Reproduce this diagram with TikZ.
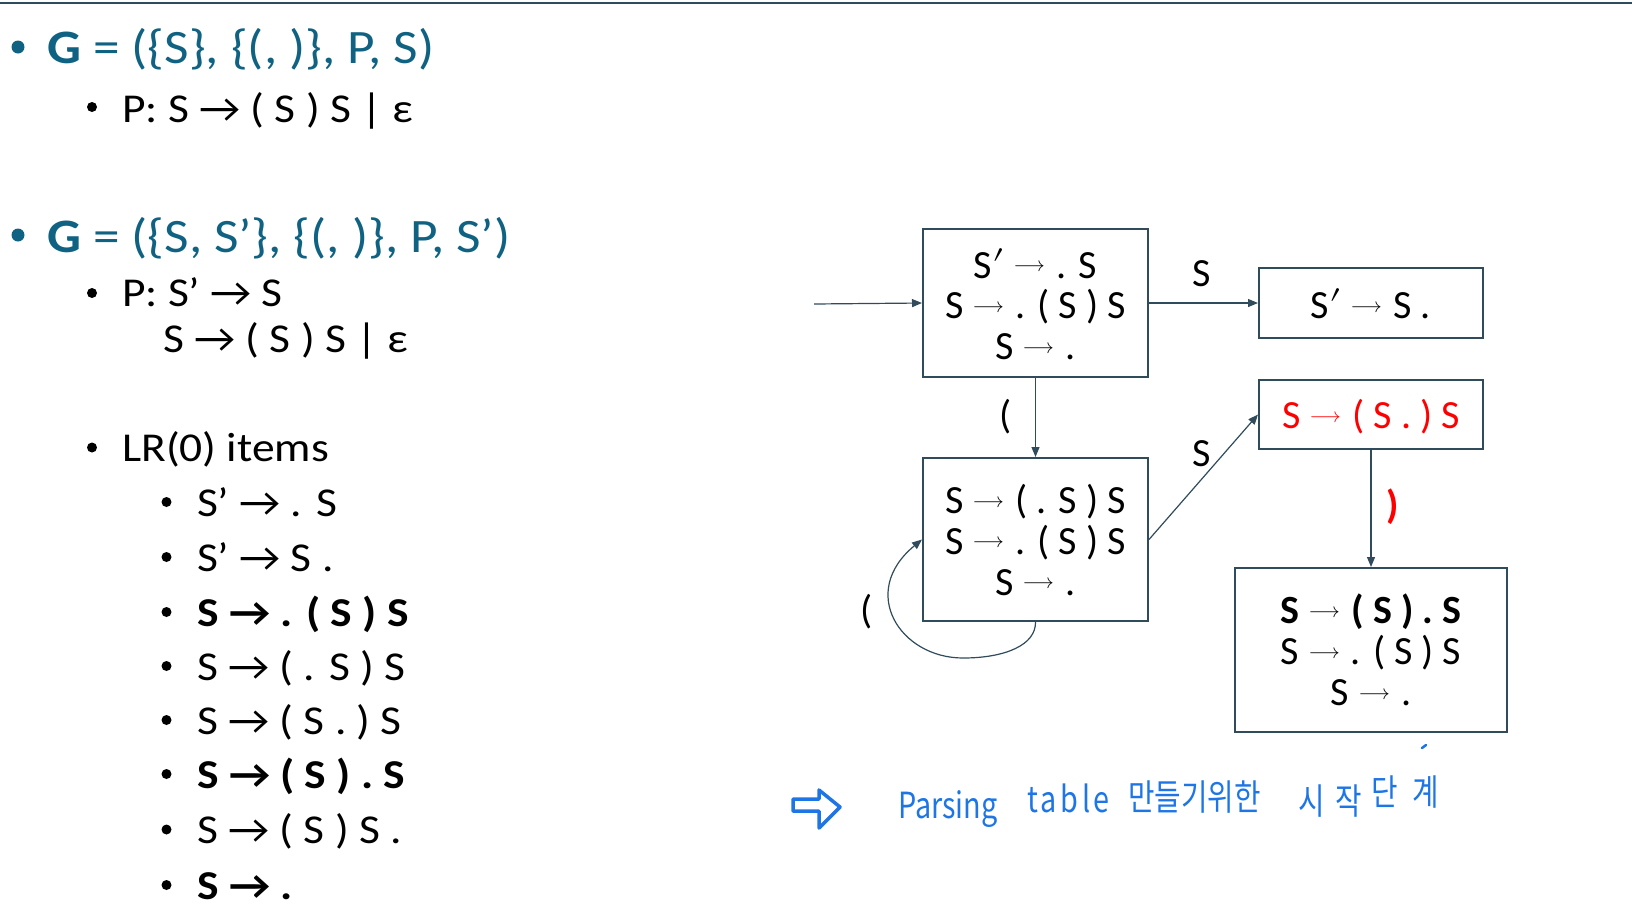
\documentclass[tikz,border=0pt]{standalone}
\usepackage{fontspec}
\setmainfont{Carlito}
\newfontfamily\listfont[FakeStretch=1.11]{Carlito}
\newfontfamily\symfont{Latin Modern Math}
\newfontfamily\handfont[FakeStretch=0.8]{Noto Sans CJK KR}
\usetikzlibrary{arrows.meta}
\definecolor{titleteal}{RGB}{16,98,130}
\definecolor{edgeslate}{RGB}{47,75,92}
\definecolor{inkblue}{RGB}{30,118,230}
% thin arrow and prime used inside the item boxes
\newcommand{\arw}{\hspace{1pt}\raisebox{6.5pt}{\symfont\fontsize{21}{21}\selectfont ⟶}\hspace{2pt}}
\newcommand{\prm}{{\symfont\fontsize{40}{40}\selectfont ′}}

\begin{document}
\begin{tikzpicture}[x=1pt,y=-1pt,
  lvlone/.style={anchor=base west, inner sep=0pt, text=titleteal, font=\listfont\fontsize{48}{56}\selectfont},
  lvltwo/.style={anchor=base west, inner sep=0pt, font=\listfont\fontsize{41}{48}\selectfont},
  dotone/.style={fill=titleteal, draw=none},
  dottwo/.style={fill=black, draw=none},
  state/.style={draw=edgeslate, line width=2pt, inner sep=0pt},
  boxtext/.style={align=center, inner sep=0pt, font=\fontsize{40}{40.8}\selectfont},
  trans/.style={draw=edgeslate, line width=1.2pt, -{Triangle[length=10pt,width=8pt]}},
  elabel/.style={inner sep=0pt, font=\fontsize{40}{44}\selectfont},
  hand/.style={anchor=base west, inner sep=0pt, text=inkblue, font=\handfont\fontsize{36}{40}\selectfont}
]
\useasboundingbox (0,0) rectangle (1632,919);

% rule across the top
\draw[edgeslate, line width=2.5pt] (0,3) -- (1632,3);

% ---- grammar definitions ----
\fill[dotone] (18,47) circle (6.5);
\node[lvlone] (g1) at (47,63) {\textbf{G} = (\{S\}, \{(, )\}, P, S)};
\fill[dottwo] (92,107) circle (5);
\node[lvltwo] (p1) at (122,122) {P: S → ( S ) S | ε};

\fill[dotone] (18,235) circle (6.5);
\node[lvlone] (g2) at (47,252) {\textbf{G} = (\{S, S’\}, \{(, )\}, P, S’)};
\fill[dottwo] (92,293) circle (5);
\node[lvltwo] (p2) at (122,306) {P: S’ → S};
\node[lvltwo] (p3) at (163,352) {S → ( S ) S | ε};

\fill[dottwo] (92,447.5) circle (5);
\node[lvltwo] (lr) at (122,461) {LR(0) items};

% LR(0) items
\foreach \yy/\nm/\txt in {
  502/i1/{S’ → . S},
  557/i2/{S’ → S .},
  612/i3/{\bfseries S → . ( S ) S},
  666/i4/{S → ( . S ) S},
  720/i5/{S → ( S . ) S},
  774/i6/{\bfseries S → ( S ) . S},
  829.5/i7/{S → ( S ) S .},
  885/i8/{\bfseries S → .}}{
  \fill[dottwo] (166.5,\yy) circle (5);
  \node[lvltwo] (\nm) at (197,\yy+14) {\txt};
}

% ---- LR(0) automaton: states ----
\node[state, minimum width=225pt, minimum height=148pt] (A) at (1035.5,303) {};
\node[state, minimum width=224pt, minimum height=69.5pt] (B) at (1371,303) {};
\node[state, minimum width=224pt, minimum height=69pt] (C) at (1371,414.5) {};
\node[state, minimum width=225pt, minimum height=163pt] (D) at (1035.5,539.5) {};
\node[state, minimum width=271.5pt, minimum height=164pt] (E) at (1371,650) {};

% item sets written in the states
\node[boxtext] (At) at (1035.5,304) {S\prm{} \arw{} . S\\ S \arw{} . ( S ) S\\ S \arw{} .};
\node[boxtext] (Bt) at (1371,304) {S\prm{} \arw{} S .};
\node[boxtext, text=red] (Ct) at (1371,417) {S \arw{} ( S . ) S};
\node[boxtext] (Dt) at (1035.5,540) {S \arw{} ( . S ) S\\ S \arw{} . ( S ) S\\ S \arw{} .};
\node[boxtext] (Et) at (1371,650) {\textbf{S} \arw{} \textbf{( S ) . S}\\ S \arw{} . ( S ) S\\ S \arw{} .};

% ---- transitions ----
\coordinate (start) at (814,304);
\draw[trans] (start) -- (A.west);
\draw[trans] (A.east) -- (B.west);
\draw[trans] (A.south) -- (D.north);
\draw[trans] (D.east) -- (C.west);
\draw[trans] (C.south) -- (E.north);
\draw[trans] (D.south) .. controls (1036,645) and (1005,658) .. (963,658)
  .. controls (900,658) and (858,592) .. (D.west);

\node[elabel] (lAB) at (1202,274) {S};
\node[elabel] (lAD) at (1006,417) {(};
\node[elabel] (lDC) at (1202,454) {S};
\node[elabel, text=red, font=\bfseries\fontsize{40}{44}\selectfont] (lCE) at (1393,507) {)};
\node[elabel] (lDD) at (867,612) {(};

% ---- handwritten note ----
\draw[inkblue, line width=3.5pt, line join=round, line cap=round]
  (793,799) -- (819,799) -- (819,790) -- (840,807) -- (819,828) -- (819,811) -- (793,811) -- cycle;
\node[hand] (w1) at (898,818) {Parsing};
\node[hand] (w2) at (1027,812) {\addfontfeature{LetterSpace=10}table};
\node[hand] (w3) at (1128,810) {만들기위한};
\node[hand] (w4) at (1298,814) {시\hspace{11pt}작};
\node[hand] (w5) at (1371,805) {단\hspace{15pt}계};
\draw[inkblue, line width=2.5pt, line cap=round] (1422,748) -- (1426,745);
\end{tikzpicture}
\end{document}
